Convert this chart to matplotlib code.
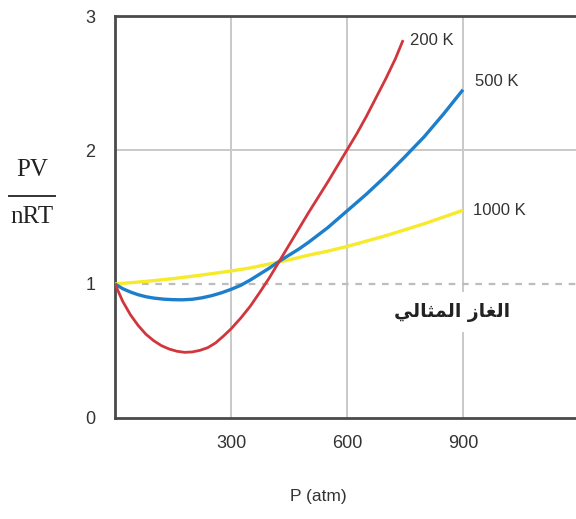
import matplotlib
matplotlib.use("Agg")
import matplotlib.pyplot as plt

# Data
p_200 = [0, 20, 40, 60, 80, 100, 120, 140, 160, 180, 200, 220, 240, 260, 280, 300, 325, 350, 375,
         400, 425, 450, 475, 500, 525, 550, 575, 600, 625, 650, 675, 700, 725, 745]
z_200 = [1.0, 0.87, 0.77, 0.69, 0.625, 0.577, 0.54, 0.515, 0.498, 0.49, 0.493, 0.505, 0.525, 0.56,
         0.61, 0.665, 0.745, 0.835, 0.94, 1.05, 1.17, 1.29, 1.41, 1.53, 1.645, 1.76, 1.88, 2.0,
         2.12, 2.25, 2.39, 2.53, 2.68, 2.82]

p_500 = [0, 20, 40, 60, 80, 100, 125, 150, 175, 200, 225, 250, 275, 300, 325, 350, 375, 400,
         425, 450, 475, 500, 550, 600, 650, 700, 750, 800, 850, 900]
z_500 = [1.0, 0.965, 0.94, 0.92, 0.905, 0.895, 0.887, 0.883, 0.882, 0.886, 0.897, 0.913, 0.934,
         0.96, 0.99, 1.03, 1.075, 1.12, 1.17, 1.215, 1.26, 1.31, 1.42, 1.545, 1.67, 1.805, 1.95,
         2.1, 2.27, 2.45]

p_1000 = [0, 50, 100, 150, 200, 250, 300, 350, 400, 450, 500, 550, 600, 650, 700, 750, 800, 850, 900]
z_1000 = [1.0, 1.012, 1.025, 1.04, 1.058, 1.077, 1.097, 1.12, 1.15, 1.18, 1.215, 1.245, 1.28,
          1.32, 1.36, 1.405, 1.45, 1.5, 1.55]

x_ticks = [300, 600, 900]
y_ticks = [0, 1, 2, 3]
series_labels = ["200 K", "500 K", "1000 K"]
ideal_label = "\ufef2\ufedf\ufe8e\ufe9c\ufee4\ufedf\ufe8d \ufeaf\ufe8e\ufed0\ufedf\ufe8d"  # الغاز المثالي (shaped, visual order)

W, H = 576, 519
fig = plt.figure(figsize=(W / 100, H / 100), dpi=100)
ax_w = 0.81
ax = fig.add_axes([115 / W, (H - 418) / H, ax_w, (418 - 16) / H])
xmax = W * ax_w * 300 / 116
ax.set_xlim(0, xmax)
ax.set_ylim(0, 3)

grid_c = "#c9c9c9"
for xv in x_ticks:
    ax.axvline(xv, color=grid_c, lw=1.4, zorder=1)
ax.axhline(2, color=grid_c, lw=1.4, zorder=1)
ax.plot([70, xmax], [1, 1], color="#bdbdbd", lw=1.6, ls=(0, (3, 3)), zorder=1)

ax.plot(p_1000, z_1000, color="#f7ea2a", lw=2.4, zorder=3, solid_capstyle="butt")
ax.plot(p_500, z_500, color="#1d7fcb", lw=2.4, zorder=4, solid_capstyle="butt")
ax.plot(p_200, z_200, color="#d1363d", lw=2.0, zorder=5, solid_capstyle="butt")

tick_fam = "Liberation Sans"
lab_font = dict(family=tick_fam, fontsize=12, color="#333333")
ax.text(763, 2.82, series_labels[0], ha="left", va="center", **lab_font)
ax.text(931, 2.51, series_labels[1], ha="left", va="center", **lab_font)
ax.text(926, 1.545, series_labels[2], ha="left", va="center", **lab_font)

ax.text(871, 0.79, ideal_label, ha="center", va="center", family="DejaVu Sans",
        fontsize=13.5, fontweight="bold", color="#222222", zorder=6,
        bbox=dict(boxstyle="square,pad=0.55", fc="white", ec="none"))

ax.set_xticks(x_ticks)
ax.set_yticks(y_ticks)
ax.set_xticklabels([str(v) for v in x_ticks], family=tick_fam, fontsize=13, color="#333333")
ax.set_yticklabels([str(v) for v in y_ticks], family=tick_fam, fontsize=13, color="#333333")
ax.tick_params(length=0, pad=12)
ax.tick_params(axis="y", pad=14)

for s in ["left", "bottom", "top"]:
    ax.spines[s].set_color("#4a4a4a")
    ax.spines[s].set_linewidth(2.0)
ax.spines["right"].set_visible(False)

fig.text(318 / W, 1 - 497 / H, "P (atm)", ha="center", va="center",
         family=tick_fam, fontsize=12.5, color="#333333")

# PV / nRT label
fig.text(32 / W, 1 - 170 / H, "PV", ha="center", va="center",
         family="Liberation Serif", fontsize=18, color="#222222")
fig.add_artist(plt.Line2D([9 / W, 55 / W], [1 - 196 / H, 1 - 196 / H], color="#333333", lw=1.4))
fig.text(32 / W, 1 - 217 / H, "nRT", ha="center", va="center",
         family="Liberation Serif", fontsize=18, color="#222222")

fig.savefig("out.png", dpi=100)
